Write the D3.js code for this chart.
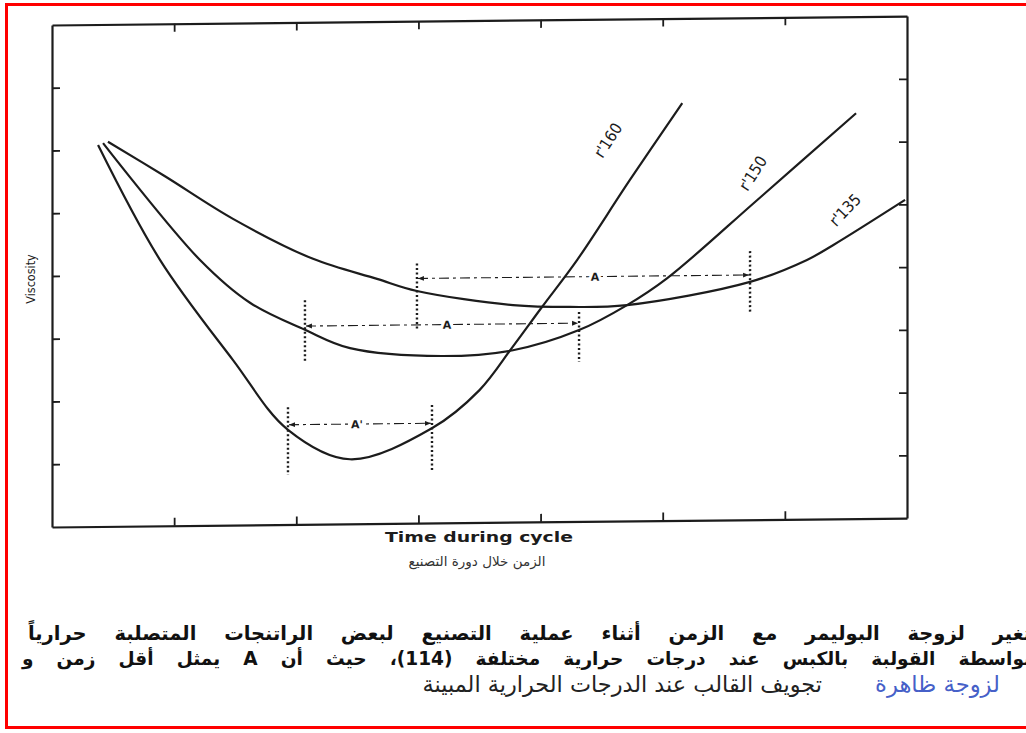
<!DOCTYPE html>
<html>
<head>
<meta charset="utf-8">
<script src="https://cdn.jsdelivr.net/npm/d3@7"></script>
<style>
  body { margin: 0; background: #fff; overflow: hidden; }
  svg { display: block; }
</style>
</head>
<body>
<div id="chart"></div>
<script>
// Viscosity vs time during cycle, three mould temperatures
// x: tick units along the time axis, y: tick units of viscosity (no numbers on the axes)
const xTicks = [1, 2, 3, 4, 5, 6]
const yTicks = [1, 2, 3, 4, 5, 6, 7]

const curve160 = [[0.377, 6.08], [0.884, 4.24], [1.482, 2.63], [1.932, 1.51], [2.44, 1.03], [3.11, 1.51],
                  [3.50, 2.11], [3.77, 2.79], [4.01, 3.42], [4.30, 4.17], [4.73, 5.43], [5.16, 6.65]]
const curve150 = [[0.418, 6.11], [1.212, 4.23], [1.621, 3.54], [2.071, 3.10], [2.44, 2.80], [3.193, 2.66],
                  [3.774, 2.74], [4.315, 3.05], [4.708, 3.44], [5.035, 3.86], [5.772, 5.09], [6.583, 6.46]]
const curve135 = [[0.458, 6.13], [0.925, 5.57], [1.482, 4.88], [2.137, 4.23], [2.661, 3.90], [2.988, 3.70],
                  [3.774, 3.46], [4.241, 3.42], [4.708, 3.44], [5.715, 3.79], [6.181, 4.13], [6.394, 4.36], [6.984, 5.07]]

const curveNames = ["r'160", "r'150", "r'135"]
const curveLabelX = [4.552, 5.739, 6.493]
const curveLabelY = [6.07, 5.52, 4.92]
const curveLabelAngle = [-57, -57, -46]

// the "A" spans (minimum time) for each curve
const spanNames = ["A", "A", "A'"]
const spanX0 = [2.988, 2.071, 1.932]
const spanX1 = [5.715, 4.315, 3.111]
const spanY = [3.90, 3.16, 1.59]
const spanLabelX = [4.446, 3.234, 2.497]
const spanTop0 = [4.14, 3.57, 1.87], spanBot0 = [3.08, 2.57, 0.79]
const spanTop1 = [4.28, 3.34, 1.88], spanBot1 = [3.29, 2.54, 0.81]

const xTitle = "Time during cycle"
const yTitle = "Viscosity"
const xTitleAr = "الزمن خلال دورة التصنيع"
const captionLines = [
  "تغير لزوجة البوليمر مع الزمن أثناء عملية التصنيع لبعض الراتنجات المتصلبة حرارياً",
  "بواسطة القولبة بالكبس عند درجات حرارية مختلفة (114)، حيث أن A يمثل أقل زمن و"
]
const captionBlue = "لزوجة ظاهرة"
const captionLast = "تجويف القالب عند الدرجات الحرارية المبينة"

// Chart parameters
const WIDTH = 1026
const HEIGHT = 733
const PLOT = {LEFT: 52, RIGHT: 907, TOP: 25, BOTTOM: 527}
const SKEW = -0.6   // the scanned page is slightly tilted

const svg = d3.select("#chart").append("svg")
    .attr("width", WIDTH)
    .attr("height", HEIGHT)

// red frame round the page
svg.append("rect")
    .attr("x", 6.5).attr("y", 4.5)
    .attr("width", 1040).attr("height", 723)
    .attr("fill", "none")
    .attr("stroke", "#ff0000")
    .attr("stroke-width", 3)

const x = d3.scaleLinear().domain([0, 7]).range([PLOT.LEFT, PLOT.RIGHT])
const y = d3.scaleLinear().domain([0, 8]).range([PLOT.BOTTOM, PLOT.TOP])

const g = svg.append("g")
    .attr("transform", `translate(${PLOT.LEFT},0) skewY(${SKEW}) translate(${-PLOT.LEFT},0)`)

const ink = "#1c1c1c"

// axes: four sides, ticks pointing inward, no labels
const axes = [
  [d3.axisBottom(x).tickValues(xTicks), `translate(0,${PLOT.BOTTOM})`],
  [d3.axisTop(x).tickValues(xTicks), `translate(0,${PLOT.TOP})`],
  [d3.axisLeft(y).tickValues(yTicks), `translate(${PLOT.LEFT},0)`],
  [d3.axisRight(y).tickValues(yTicks), `translate(${PLOT.RIGHT},0)`]
]
axes.forEach(([ax, tr]) => {
  const a = g.append("g")
      .attr("transform", tr)
      .call(ax.tickSize(-8).tickSizeOuter(0).tickFormat(""))
  a.select(".domain").attr("stroke", ink).attr("stroke-width", 2.2)
  a.selectAll(".tick line").attr("stroke", ink).attr("stroke-width", 1.8)
})

// curves
const line = d3.line()
    .x(d => x(d[0]))
    .y(d => y(d[1]))
    .curve(d3.curveCatmullRom.alpha(0.5))

g.selectAll("path.curve")
    .data([curve160, curve150, curve135])
    .enter()
    .append("path")
    .attr("class", "curve")
    .attr("d", line)
    .attr("fill", "none")
    .attr("stroke", ink)
    .attr("stroke-width", 2.2)

// curve labels, written along the rising branch
g.selectAll("text.clabel")
    .data(curveNames)
    .enter()
    .append("text")
    .attr("class", "clabel")
    .attr("transform", (d, i) => `translate(${x(curveLabelX[i])},${y(curveLabelY[i])}) rotate(${curveLabelAngle[i]})`)
    .attr("text-anchor", "middle")
    .attr("dy", "0.35em")
    .attr("font-family", "DejaVu Sans Condensed, DejaVu Sans")
    .attr("font-size", 16)
    .attr("fill", ink)
    .text(d => d)

// arrow heads for the spans
const defs = svg.append("defs")
defs.append("marker")
    .attr("id", "arrow")
    .attr("viewBox", "0 0 10 10")
    .attr("refX", 10).attr("refY", 5)
    .attr("markerWidth", 9).attr("markerHeight", 6)
    .attr("markerUnits", "userSpaceOnUse")
    .attr("orient", "auto-start-reverse")
    .append("path")
    .attr("d", "M0,1 L10,5 L0,9 z")
    .attr("fill", ink)

spanNames.forEach((name, i) => {
  // dotted verticals
  g.append("line")
      .attr("x1", x(spanX0[i])).attr("x2", x(spanX0[i]))
      .attr("y1", y(spanTop0[i])).attr("y2", y(spanBot0[i]))
      .attr("stroke", ink).attr("stroke-width", 2.4)
      .attr("stroke-dasharray", "2,2.5")
  g.append("line")
      .attr("x1", x(spanX1[i])).attr("x2", x(spanX1[i]))
      .attr("y1", y(spanTop1[i])).attr("y2", y(spanBot1[i]))
      .attr("stroke", ink).attr("stroke-width", 2.4)
      .attr("stroke-dasharray", "2,2.5")
  // dash-dot dimension line with arrows on both ends
  g.append("line")
      .attr("x1", x(spanX0[i]) + 1).attr("x2", x(spanX1[i]) - 1)
      .attr("y1", y(spanY[i])).attr("y2", y(spanY[i]))
      .attr("stroke", ink).attr("stroke-width", 1.1)
      .attr("stroke-dasharray", "10,4,3,4")
      .attr("marker-start", "url(#arrow)")
      .attr("marker-end", "url(#arrow)")
  g.append("text")
      .attr("x", x(spanLabelX[i]))
      .attr("y", y(spanY[i]))
      .attr("dy", "0.38em")
      .attr("text-anchor", "middle")
      .attr("font-family", "DejaVu Sans")
      .attr("font-weight", "bold")
      .attr("font-size", 11)
      .attr("fill", ink)
      .attr("stroke", "#fff")
      .attr("stroke-width", 6)
      .attr("paint-order", "stroke")
      .text(name)
})

// axis titles
svg.append("text")
    .attr("transform", "translate(35,279) rotate(-90)")
    .attr("text-anchor", "middle")
    .attr("font-family", "DejaVu Sans Condensed, DejaVu Sans")
    .attr("font-size", 12.5)
    .attr("fill", ink)
    .text(yTitle)

svg.append("text")
    .attr("x", 479).attr("y", 542)
    .attr("text-anchor", "middle")
    .attr("font-family", "DejaVu Sans")
    .attr("font-weight", "bold")
    .attr("font-size", 13.5)
    .attr("textLength", 188)
    .attr("lengthAdjust", "spacingAndGlyphs")
    .attr("fill", ink)
    .text(xTitle)

svg.append("text")
    .attr("x", 477).attr("y", 566)
    .attr("text-anchor", "middle")
    .attr("font-family", "DejaVu Sans")
    .attr("font-size", 13.5)
    .attr("fill", "#333")
    .text(xTitleAr)

// helper: scale a text's font so its natural width fits a target width
function fitFont(el, base, target) {
  el.attr("font-size", base)
  const w = el.node().getComputedTextLength()
  el.attr("font-size", base * target / w)
}

// Arabic caption, right aligned and cut by the page edge
const capY = [640, 665, 692]
const capLeft = [28, 22]
const capRight = 1031
captionLines.forEach((t, i) => {
  const el = svg.append("text")
      .attr("x", capRight).attr("y", capY[i])
      .attr("direction", "rtl")
      .attr("text-anchor", "start")
      .attr("font-family", "DejaVu Sans")
      .attr("font-weight", "bold")
      .attr("fill", "#111")
      .text(t)
  const target = capRight - capLeft[i]
  fitFont(el, 16, target * 0.77)
  const natural = el.node().getComputedTextLength()
  const gaps = t.split(" ").length - 1
  el.attr("word-spacing", Math.max(0, (target - natural) / gaps))
})

const blue = svg.append("text")
    .attr("x", 1000).attr("y", capY[2])
    .attr("direction", "rtl")
    .attr("text-anchor", "start")
    .attr("font-family", "DejaVu Sans")
    .attr("fill", "#4660c8")
    .text(captionBlue)
fitFont(blue, 16, 125)

const last = svg.append("text")
    .attr("x", 822).attr("y", capY[2])
    .attr("direction", "rtl")
    .attr("text-anchor", "start")
    .attr("font-family", "DejaVu Sans")
    .attr("fill", "#222")
    .text(captionLast)
fitFont(last, 14, 400)
</script>
</body>
</html>
